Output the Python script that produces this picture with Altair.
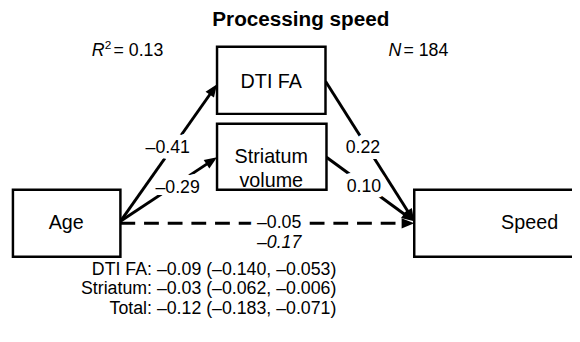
import math
import altair as alt
import pandas as pd

# ---------------- content ----------------
TITLE = "Processing speed"
node_names = ["Age", "DTI FA", "Striatum\nvolume", "Speed"]
edge_from = ["Age", "Age", "DTI FA", "Striatum\nvolume", "Age"]
edge_to = ["DTI FA", "Striatum\nvolume", "Speed", "Speed", "Speed"]
edge_coef = ["–0.41", "–0.29", "0.22", "0.10", "–0.05"]
edge_dashed = [False, False, False, False, True]
total_effect = "–0.17"
r2_value = "0.13"
n_value = "184"
indirect_names = ["DTI FA:", "Striatum:", "Total:"]
indirect_values = ["–0.09 (–0.140, –0.053)", "–0.03 (–0.062, –0.006)", "–0.12 (–0.183, –0.071)"]

# ---------------- layout (pixels) ----------------
W, H = 572, 334
FONT = "Liberation Sans"
FS = 18
box_pos = {
    "Age": (13, 190, 122, 258),
    "DTI FA": (220, 45, 330, 113),
    "Striatum\nvolume": (220, 123, 331, 190),
    "Speed": (420, 190, 646, 258),
}
box_text_pos = {
    "Age": (67, 224),
    "DTI FA": (275, 81),
    "Striatum\nvolume": (275, 157),
    "Speed": (537, 224),
}
edge_start = [(122, 222), (122, 222), (330, 80), (331, 157), (122, 224)]
edge_end = [(220, 83), (220, 157), (420, 222), (420, 222), (420, 224)]
label_pos = [(170, 148), (180, 188), (368, 148), (369, 187), (283, 224)]

xs = alt.Scale(domain=[8, 8 + W], range=[0, W], nice=False, zero=False)
ys = alt.Scale(domain=[8, 8 + H], reverse=True, nice=False, zero=False)


def X(f):
    return alt.X(f, type="quantitative", scale=xs, axis=None)


def Y(f):
    return alt.Y(f, type="quantitative", scale=ys, axis=None)


boxes = pd.DataFrame([
    {"name": n, "x0": box_pos[n][0], "y0": box_pos[n][1], "x1": box_pos[n][2], "y1": box_pos[n][3],
     "cx": box_text_pos[n][0], "cy": box_text_pos[n][1]}
    for n in node_names
])

rows, heads = [], []
for i in range(len(edge_from)):
    (x0, y0), (x1, y1) = edge_start[i], edge_end[i]
    dx, dy = x1 - x0, y1 - y0
    L = math.hypot(dx, dy)
    ux, uy = dx / L, dy / L
    rows.append({"x": x0, "y": y0, "x2": x1 - 8 * ux, "y2": y1 - 8 * uy,
                 "dashed": edge_dashed[i], "coef": edge_coef[i],
                 "lx": label_pos[i][0], "ly": label_pos[i][1]})
    ang = (math.degrees(math.atan2(ux, -uy)) + 360) % 360
    heads.append({"x": x1, "y": y1, "angle": ang})
edges = pd.DataFrame(rows)
heads = pd.DataFrame(heads)

solid = alt.Chart(edges[~edges.dashed]).mark_rule(strokeWidth=3, color="black").encode(
    x=X("x"), y=Y("y"), x2="x2", y2="y2")
dashed = alt.Chart(edges[edges.dashed]).mark_rule(strokeWidth=3, color="black", strokeDash=[15, 9]).encode(
    x=X("x"), y=Y("y"), x2="x2", y2="y2")
arrow = alt.Chart(heads).mark_point(
    shape="M0,0L-0.65,1.6L0.65,1.6Z", filled=True, color="black", opacity=1, size=256, strokeWidth=0
).encode(x=X("x"), y=Y("y"), angle=alt.Angle("angle:Q", scale=None))

rects = alt.Chart(boxes).mark_rect(fill="white", stroke="black", strokeWidth=2.5).encode(
    x=X("x0"), y=Y("y0"), x2="x1", y2="y1")
box_text = alt.Chart(boxes).mark_text(font=FONT, fontSize=20, lineBreak="\n", lineHeight=24,
                                       baseline="middle", color="black").encode(
    x=X("cx"), y=Y("cy"), text="name:N")

halo = alt.Chart(edges).mark_text(font=FONT, fontSize=FS, baseline="middle", stroke="white",
                                  strokeWidth=12, strokeJoin="round", fill="white").encode(
    x=X("lx"), y=Y("ly"), text="coef:N")
coef_text = alt.Chart(edges).mark_text(font=FONT, fontSize=FS, baseline="middle", color="black").encode(
    x=X("lx"), y=Y("ly"), text="coef:N")

free = pd.DataFrame([{"t": TITLE, "x": 305, "y": 18}])
title = alt.Chart(free).mark_text(font=FONT, fontSize=21, fontWeight="bold", baseline="middle").encode(
    x=X("x"), y=Y("y"), text="t:N")

ital = pd.DataFrame([
    {"t": "R", "x": 93, "y": 49},
    {"t": "N", "x": 394, "y": 49},
])
ital_text = alt.Chart(ital).mark_text(font=FONT, fontSize=FS, fontStyle="italic", align="left",
                                      baseline="middle").encode(x=X("x"), y=Y("y"), text="t:N")
sup = pd.DataFrame([{"t": "2", "x": 106, "y": 43}])
sup_text = alt.Chart(sup).mark_text(font=FONT, fontSize=12, align="left", baseline="middle").encode(
    x=X("x"), y=Y("y"), text="t:N")
plain = pd.DataFrame([
    {"t": "= " + r2_value, "x": 115, "y": 49},
    {"t": "= " + n_value, "x": 409, "y": 49},
])
plain_text = alt.Chart(plain).mark_text(font=FONT, fontSize=FS, align="left", baseline="middle").encode(
    x=X("x"), y=Y("y"), text="t:N")

tot = pd.DataFrame([{"t": total_effect, "x": 283, "y": 244}])
tot_text = alt.Chart(tot).mark_text(font=FONT, fontSize=FS, fontStyle="italic", baseline="middle").encode(
    x=X("x"), y=Y("y"), text="t:N")

ind = pd.DataFrame({"name": indirect_names, "val": indirect_values, "y": [271, 291, 311]})
ind_names = alt.Chart(ind).mark_text(font=FONT, fontSize=FS, align="right", baseline="middle").encode(
    x=X("nx"), y=Y("y"), text="name:N").transform_calculate(nx="154")
ind_vals = alt.Chart(ind).mark_text(font=FONT, fontSize=FS, align="left", baseline="middle").encode(
    x=X("vx"), y=Y("y"), text="val:N").transform_calculate(vx="159")

chart = alt.layer(
    solid, dashed, rects, arrow, box_text, halo, coef_text, title, ital_text, sup_text, plain_text,
    tot_text, ind_names, ind_vals
).properties(width=W, height=H, padding=0, autosize=alt.AutoSizeParams(type="none")).configure_view(
    stroke=None)

chart.save("out.html", embed_options={"renderer": "svg", "actions": False})
